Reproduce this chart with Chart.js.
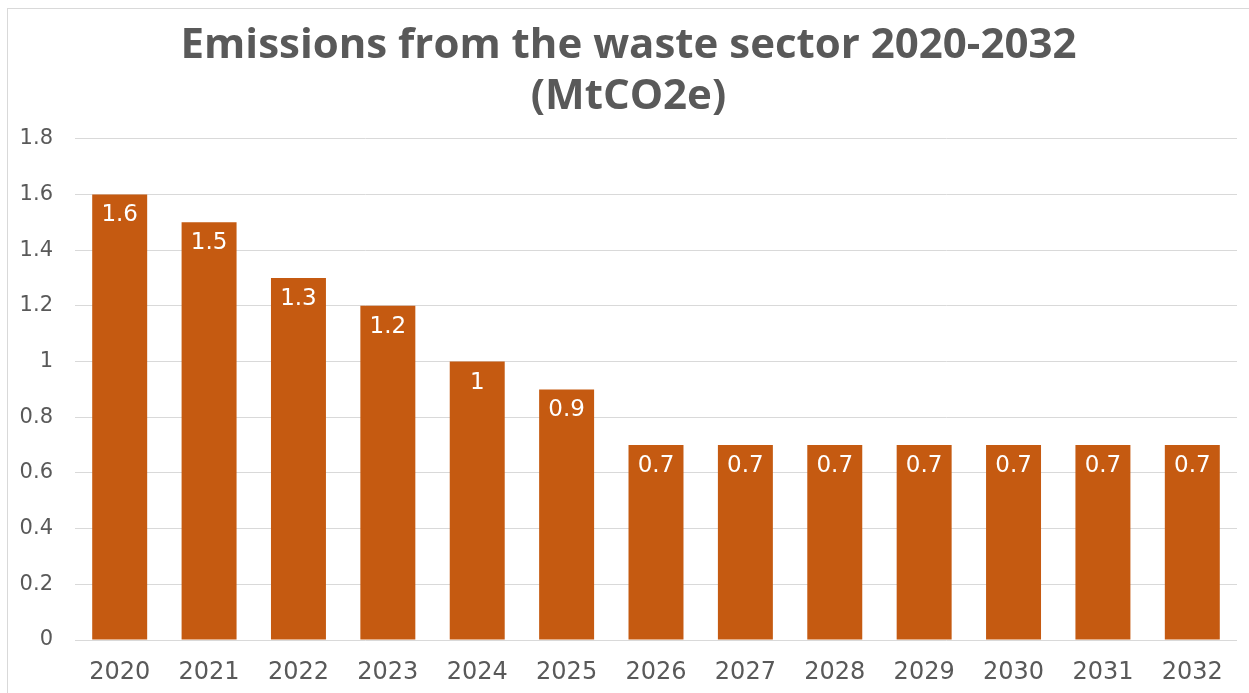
<!DOCTYPE html>
<html>
<head>
<meta charset="utf-8">
<title>Emissions from the waste sector 2020-2032</title>
<script src="https://cdn.jsdelivr.net/npm/chart.js@4/dist/chart.umd.min.js"></script>
<style>
  html, body { margin: 0; padding: 0; background: #ffffff; }
  #wrap { width: 1249px; height: 693px; position: relative; }
</style>
</head>
<body>
<div id="wrap"><canvas id="chart" width="1249" height="693"></canvas></div>
<script>
// Waste sector emissions, MtCO2e
const years = ['2020', '2021', '2022', '2023', '2024', '2025', '2026', '2027', '2028', '2029', '2030', '2031', '2032'];
const emissions = [1.6, 1.5, 1.3, 1.2, 1.0, 0.9, 0.7, 0.7, 0.7, 0.7, 0.7, 0.7, 0.7];
const titleLines = ['Emissions from the waste sector 2020-2032', '(MtCO2e)'];
const yTicks = [0, 0.2, 0.4, 0.6, 0.8, 1.0, 1.2, 1.4, 1.6, 1.8];

const TITLE_FONT = '"Open Sans", "DejaVu Sans", sans-serif';
const FONT = '"DejaVu Sans", "Open Sans", sans-serif';
const TEXT_GREY = '#595959';
const BAR_COLOR = '#C55A11';

// White page with the thin frame around the chart
const framePlugin = {
  id: 'frame',
  beforeDraw(chart) {
    const ctx = chart.ctx;
    ctx.save();
    ctx.fillStyle = '#ffffff';
    ctx.fillRect(0, 0, chart.width, chart.height);
    ctx.strokeStyle = '#d9d9d9';
    ctx.lineWidth = 1;
    ctx.strokeRect(7.5, 8.5, chart.width + 20, chart.height + 20);
    ctx.restore();
  }
};

// Value labels inside the top of each bar
const valueLabels = {
  id: 'valueLabels',
  afterDatasetsDraw(chart) {
    const ctx = chart.ctx;
    const meta = chart.getDatasetMeta(0);
    const data = chart.data.datasets[0].data;
    ctx.save();
    ctx.fillStyle = '#ffffff';
    ctx.font = '23px ' + FONT;
    ctx.textAlign = 'center';
    ctx.textBaseline = 'middle';
    meta.data.forEach((bar, i) => {
      ctx.fillText(String(data[i]), bar.x, bar.y + 21);
    });
    ctx.restore();
  }
};

new Chart(document.getElementById('chart'), {
  type: 'bar',
  data: {
    labels: years,
    datasets: [{
      data: emissions,
      backgroundColor: BAR_COLOR,
      borderWidth: 0,
      categoryPercentage: 1,
      barPercentage: 0.615
    }]
  },
  options: {
    responsive: false,
    animation: false,
    devicePixelRatio: 1,
    layout: { padding: { left: 20, right: 12, top: 0, bottom: 0 } },
    plugins: {
      legend: { display: false },
      tooltip: { enabled: false },
      title: {
        display: true,
        text: titleLines,
        color: TEXT_GREY,
        font: { family: TITLE_FONT, size: 42, weight: 'bold', lineHeight: 1.2 },
        padding: { top: 21, bottom: 17 }
      }
    },
    scales: {
      x: {
        grid: { display: false, drawTicks: false },
        border: { display: false },
        ticks: {
          color: TEXT_GREY,
          font: { family: FONT, size: 24 },
          padding: 18,
          maxRotation: 0,
          autoSkip: false
        },
        afterFit(scale) { scale.height = 53; }
      },
      y: {
        min: 0,
        max: 1.8,
        afterBuildTicks(scale) {
          scale.ticks = yTicks.map(v => ({ value: v }));
        },
        grid: { color: '#d9d9d9', lineWidth: 1, drawTicks: false },
        border: { display: false },
        ticks: {
          color: TEXT_GREY,
          font: { family: FONT, size: 21 },
          padding: 22,
          callback: v => String(Math.round(v * 10) / 10)
        },
        afterFit(scale) { scale.width = 55; }
      }
    }
  },
  plugins: [framePlugin, valueLabels]
});
</script>
</body>
</html>
